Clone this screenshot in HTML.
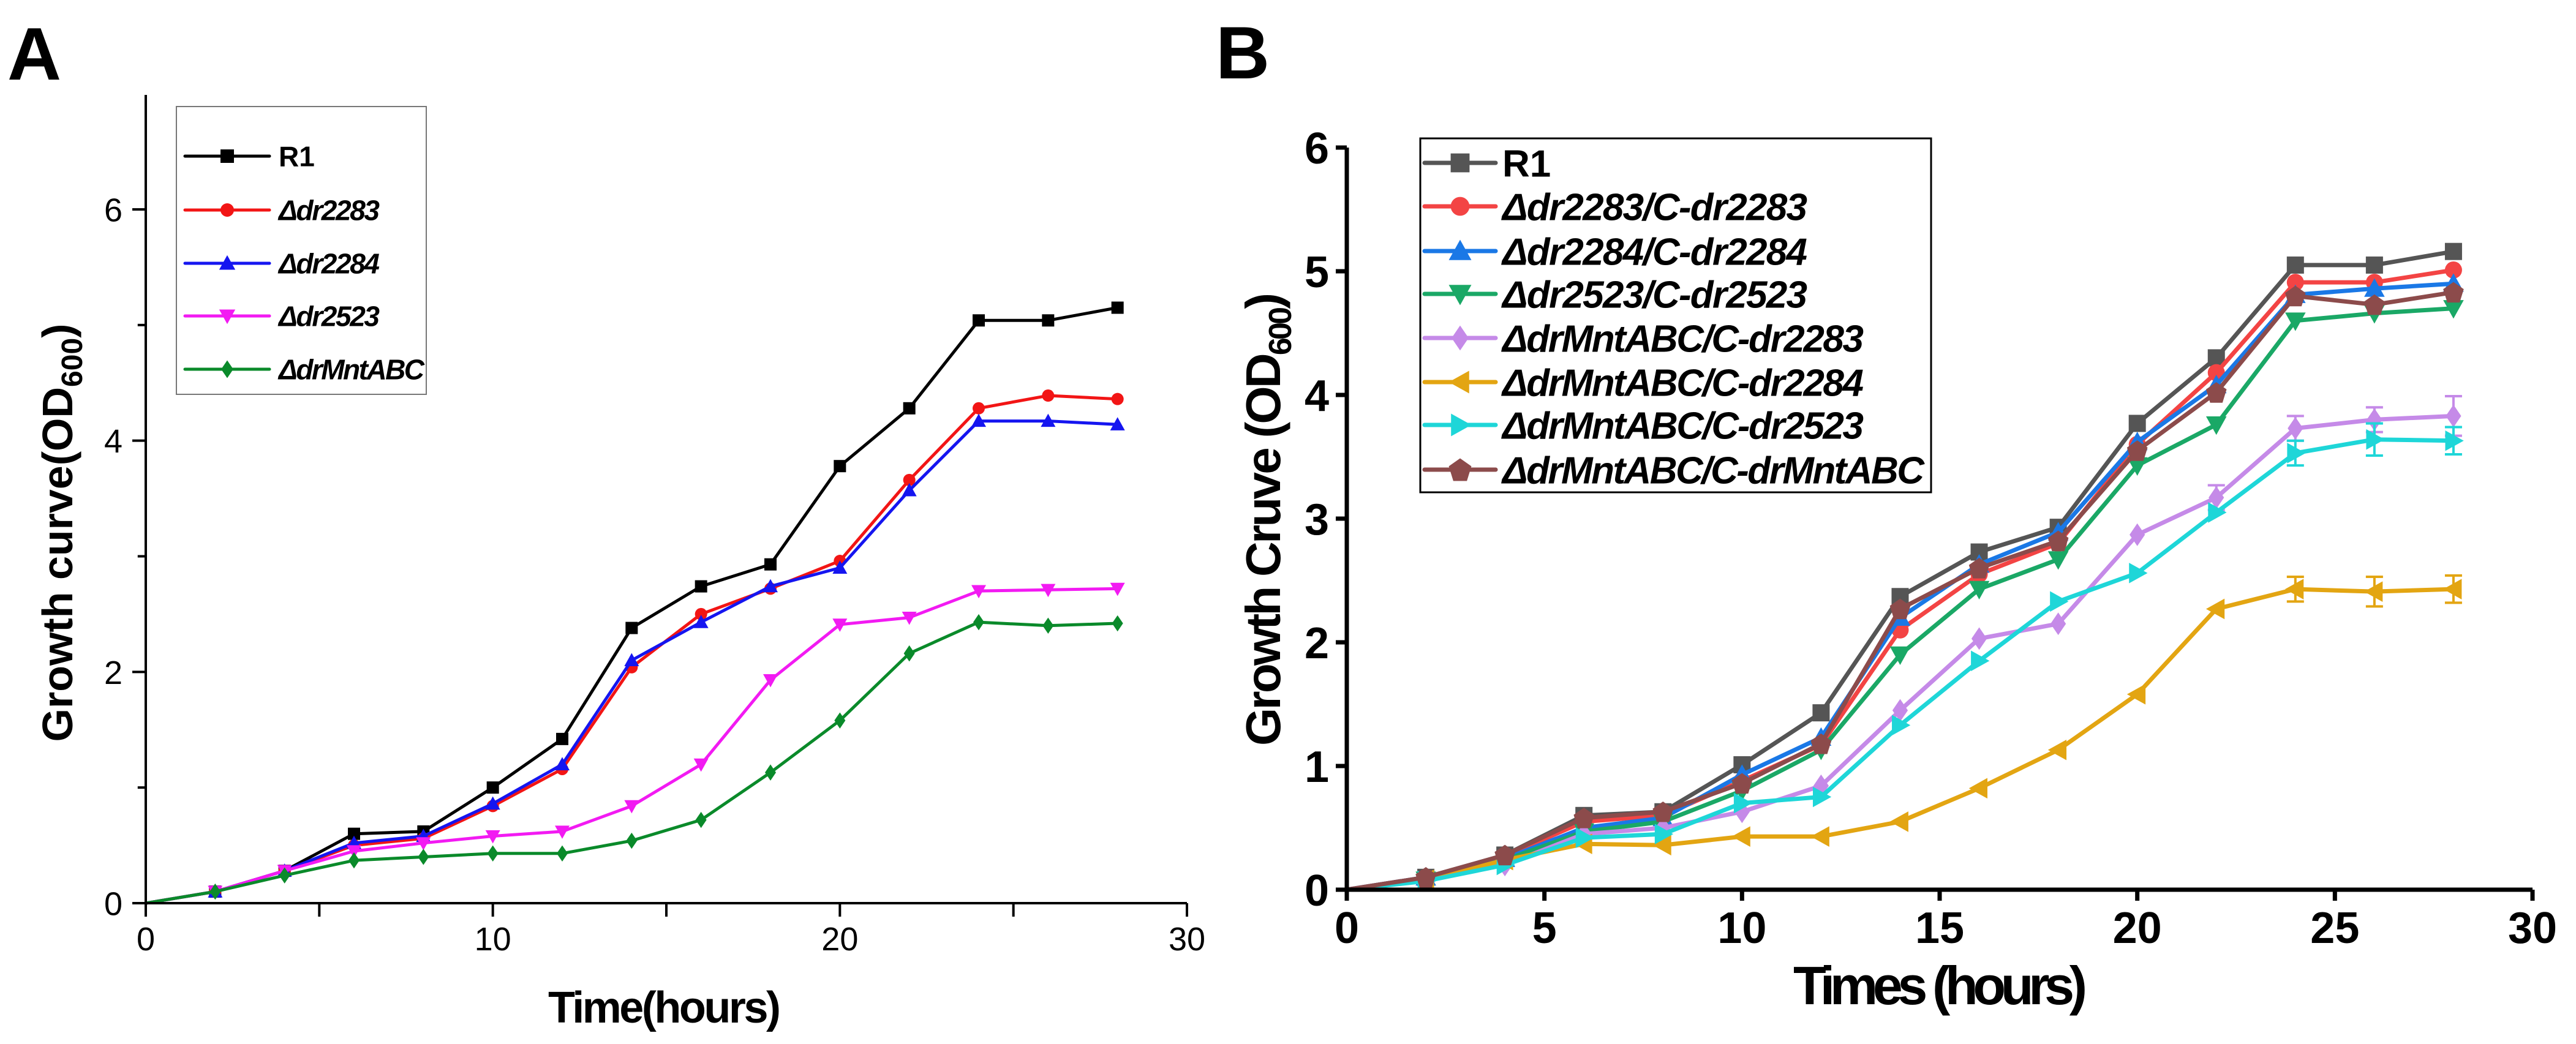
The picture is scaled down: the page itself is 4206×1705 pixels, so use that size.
<!DOCTYPE html>
<html><head><meta charset="utf-8"><style>
html,body{margin:0;padding:0;background:#fff;width:4206px;height:1705px;overflow:hidden}
svg{display:block}
text{font-family:"Liberation Sans",sans-serif}
</style></head><body>
<svg id="fig" width="4206" height="1705" viewBox="0 0 4206 1705" xmlns="http://www.w3.org/2000/svg">
<text x="12" y="130" font-size="122" font-weight="bold">A</text>
<text x="1985" y="128" font-size="122" font-weight="bold">B</text>
<g id="pa"></g>
<g id="pb"></g>
</svg>
<script>
const hours = [0,2,4,6,8,10,12,14,16,18,20,22,24,26,28];
const aNames = ["R1","Δdr2283","Δdr2284","Δdr2523","ΔdrMntABC"];
const aR1 = [0,0.1,0.28,0.6,0.62,1.0,1.42,2.38,2.74,2.93,3.78,4.28,5.04,5.04,5.15];
const a2283 = [0,0.1,0.28,0.5,0.56,0.84,1.16,2.04,2.5,2.72,2.96,3.66,4.28,4.39,4.36];
const a2284 = [0,0.1,0.28,0.52,0.58,0.86,1.2,2.1,2.43,2.74,2.9,3.57,4.17,4.17,4.14];
const a2523 = [0,0.1,0.28,0.45,0.52,0.58,0.62,0.84,1.2,1.93,2.41,2.47,2.7,2.71,2.72];
const aMnt = [0,0.1,0.24,0.37,0.4,0.43,0.43,0.54,0.72,1.13,1.58,2.16,2.43,2.4,2.42];
const aXTicks = [0,10,20,30];
const aYTicks = [0,2,4,6];
const bNames = ["R1","Δdr2283/C-dr2283","Δdr2284/C-dr2284","Δdr2523/C-dr2523","ΔdrMntABC/C-dr2283","ΔdrMntABC/C-dr2284","ΔdrMntABC/C-dr2523","ΔdrMntABC/C-drMntABC"];
const bR1 = [0,0.1,0.28,0.6,0.63,1.01,1.43,2.37,2.73,2.93,3.77,4.3,5.05,5.05,5.16];
const b2283 = [0,0.1,0.27,0.55,0.6,0.88,1.17,2.1,2.55,2.8,3.6,4.18,4.91,4.91,5.01];
const b2284 = [0,0.1,0.25,0.5,0.58,0.93,1.23,2.2,2.63,2.89,3.62,4.08,4.81,4.86,4.9];
const b2523 = [0,0.08,0.24,0.47,0.55,0.8,1.13,1.9,2.43,2.67,3.43,3.76,4.6,4.66,4.7];
const bM2283 = [0,0.08,0.2,0.45,0.5,0.63,0.84,1.45,2.03,2.15,2.87,3.17,3.73,3.8,3.83];
const bM2284 = [0,0.08,0.24,0.37,0.36,0.43,0.43,0.55,0.82,1.13,1.58,2.27,2.43,2.41,2.43];
const bM2523 = [0,0.07,0.2,0.42,0.45,0.7,0.75,1.33,1.85,2.33,2.56,3.05,3.53,3.64,3.63];
const bMMnt = [0,0.1,0.28,0.58,0.63,0.86,1.18,2.27,2.6,2.82,3.55,4.02,4.8,4.73,4.83];
const bErrM2283 = [0,0,0,0,0,0,0,0,0,0,0,0.1,0.1,0.1,0.16];
const bErrM2284 = [0,0,0,0,0,0,0,0,0,0,0,0,0.1,0.12,0.11];
const bErrM2523 = [0,0,0,0,0,0,0,0,0,0,0,0,0.1,0.13,0.11];
const bXTicks = [0,5,10,15,20,25,30];
const bYTicks = [0,1,2,3,4,5,6];

const NS="http://www.w3.org/2000/svg";
function mk(parent,tag,attrs,txt){const e=document.createElementNS(NS,tag);for(const k in attrs)e.setAttribute(k,attrs[k]);if(txt!==undefined)e.textContent=txt;parent.appendChild(e);return e;}

function marker(g,shape,cx,cy,s,color){
  let e;
  if(shape==="sq") e=mk(g,"rect",{x:cx-s/2,y:cy-s/2,width:s,height:s,fill:color});
  else if(shape==="ci") e=mk(g,"circle",{cx:cx,cy:cy,r:s/2,fill:color});
  else {
    const h=s*0.6;let p;
    if(shape==="up") p=[[cx,cy-h],[cx-h,cy+h*0.8],[cx+h,cy+h*0.8]];
    else if(shape==="dn") p=[[cx,cy+h],[cx-h,cy-h*0.8],[cx+h,cy-h*0.8]];
    else if(shape==="lt") p=[[cx-h,cy],[cx+h*0.8,cy-h],[cx+h*0.8,cy+h]];
    else if(shape==="rt") p=[[cx+h,cy],[cx-h*0.8,cy-h],[cx-h*0.8,cy+h]];
    else if(shape==="dm") p=[[cx,cy-h*1.1],[cx+h*0.75,cy],[cx,cy+h*1.1],[cx-h*0.75,cy]];
    else p=[[cx,cy-h],[cx+h,cy-h*0.3],[cx+h*0.6,cy+h],[cx-h*0.6,cy+h],[cx-h,cy-h*0.3]];
    e=mk(g,"polygon",{points:p.map(q=>q.join(",")).join(" "),fill:color});
  }
  
  
}

function chart(g,o){
  const X=v=>o.x0+(v-o.xmin)*(o.x1-o.x0)/(o.xmax-o.xmin);
  const Y=v=>o.y0-(v)*(o.y0-o.y6)/o.yref;
  o.series.forEach((s,i)=>{
    const sg=mk(g,"g",{});
    
    
    const pts=hours.map((h,j)=>X(h)+","+Y(s[j])).join(" ");
    const pl=mk(sg,"polyline",{points:pts,fill:"none",stroke:o.colors[i],"stroke-width":o.lw,"stroke-linejoin":"round"});
    
    
    const err=o.errs&&o.errs[i];
    if(err) hours.forEach((h,j)=>{ if(err[j]>0){
      const eg=mk(sg,"g",{stroke:o.colors[i],"stroke-width":4});
      
      
      const x=X(h),yt=Y(s[j]+err[j]),yb=Y(s[j]-err[j]);
      mk(eg,"line",{x1:x,y1:yt,x2:x,y2:yb});
      mk(eg,"line",{x1:x-14,y1:yt,x2:x+14,y2:yt});
      mk(eg,"line",{x1:x-14,y1:yb,x2:x+14,y2:yb});
    }});
    hours.forEach((h,j)=>{ if(j>0) marker(sg,o.shapes[i],X(h),Y(s[j]),o.ms,o.colors[i]); });
  });
  const ax=mk(g,"g",{stroke:"#000","stroke-width":o.aw,fill:"none"});
  
  
  mk(ax,"line",{x1:o.x0,y1:o.y0+o.aw/2,x2:o.x0,y2:o.ytop});
  mk(ax,"line",{x1:o.x0-o.tl*(o.yout?1:0),y1:o.y0,x2:o.x1,y2:o.y0});
  o.xt.forEach(v=>{mk(ax,"line",{x1:X(v),y1:o.y0,x2:X(v),y2:o.y0+o.tl});
    const t=mk(g,"text",{x:X(v),y:o.xly,"font-size":o.tf,"font-weight":o.tw,"text-anchor":"middle"},String(v));
    
    });
  (o.xminor||[]).forEach(v=>mk(ax,"line",{x1:X(v),y1:o.y0,x2:X(v),y2:o.y0+o.tl}));
  o.yt.forEach(v=>{mk(ax,"line",{x1:o.x0-o.tl,y1:Y(v),x2:o.x0,y2:Y(v)});
    const t=mk(g,"text",{x:o.ylx,y:Y(v)+o.tf*0.36,"font-size":o.tf,"font-weight":o.tw,"text-anchor":"end"},String(v));
    
    });
  (o.yminor||[]).forEach(v=>mk(ax,"line",{x1:o.x0-o.tl*0.6,y1:Y(v),x2:o.x0,y2:Y(v)}));
  const lg=mk(g,"g",{});
  
  
  const L=o.leg;
  mk(lg,"rect",{x:L.x,y:L.y,width:L.w,height:L.h,fill:"#fff",stroke:L.stroke,"stroke-width":L.sw});
  o.names.forEach((n,i)=>{
    const cy=L.ys[i];
    const e=mk(lg,"g",{});
    
    
    mk(e,"line",{x1:L.lx0,y1:cy,x2:L.lx1,y2:cy,stroke:o.colors[i],"stroke-width":o.lw,"stroke-linecap":"round"});
    marker(e,o.shapes[i],(L.lx0+L.lx1)/2,cy,o.ms*1.1,o.colors[i]);
    const t=mk(e,"text",{x:L.tx,y:cy+L.fs*0.36,"font-size":L.fs,"font-weight":"bold","font-style":i===0?"normal":"italic"},n);
    if(L.tls&&L.tls[i]) t.setAttribute("textLength",L.tls[i]);
  });
}

chart(document.getElementById("pa"),{
  x0:238,x1:1938,xmin:0,xmax:30,y0:1475,y6:342,yref:6,ytop:155,
  series:[aR1,a2283,a2284,a2523,aMnt],ids:["r1","dr2283","dr2284","dr2523","drmntabc"],
  names:aNames,colors:["#000","#f21515","#1515f0","#f21af2","#0a8a2a"],shapes:["sq","ci","up","dn","dm"],
  lw:5,ms:20,aw:4,tl:22,xt:aXTicks,xminor:[5,15,25],yt:aYTicks,yminor:[1,3,5],
  tf:54,tw:"normal",xly:1552,ylx:200,
  leg:{x:288,y:174,w:408,h:470,stroke:"#777",sw:2,ys:[255,343,430,516,603],lx0:302,lx1:440,tx:455,fs:46,tls:[0,165,165,165,238]}
});
chart(document.getElementById("pb"),{
  x0:2199,x1:4135,xmin:0,xmax:30,y0:1453,y6:241,yref:6,ytop:241,yout:true,
  series:[bR1,b2283,b2284,b2523,bM2283,bM2284,bM2523,bMMnt],ids:["r1","dr2283c","dr2284c","dr2523c","mnt-c2283","mnt-c2284","mnt-c2523","mnt-cmnt"],
  errs:[null,null,null,null,bErrM2283,bErrM2284,bErrM2523,null],
  names:bNames,colors:["#555555","#f34444","#1a78e6","#1aa866","#c58ae8","#e3a512","#1ed6d8","#8c4b4b"],shapes:["sq","ci","up","dn","dm","lt","rt","pt"],
  lw:7,ms:28,aw:7,tl:18,xt:bXTicks,yt:bYTicks,
  tf:72,tw:"bold",xly:1540,ylx:2170,
  leg:{x:2319,y:226,w:834,h:578,stroke:"#000",sw:3,ys:[266,337,410,480,552,624,694,767],lx0:2326,lx1:2442,tx:2453,fs:62,tls:[0,498,498,498,590,590,590,689]}
});
const svg=document.getElementById("fig");
let t=mk(svg,"text",{x:1085,y:1670,"font-size":72,"font-weight":"bold","text-anchor":"middle",textLength:380},"Time(hours)");

t=mk(svg,"text",{x:3168,y:1640,"font-size":88,"font-weight":"bold","text-anchor":"middle",textLength:480},"Times (hours)");

t=mk(svg,"text",{x:0,y:0,"font-size":70,"font-weight":"bold","text-anchor":"middle",transform:"translate(118,870) rotate(-90)"});
t.innerHTML='Growth curve(OD<tspan font-size="48" dy="16">600</tspan><tspan dy="-16">)</tspan>';

t=mk(svg,"text",{x:0,y:0,"font-size":80,"font-weight":"bold","text-anchor":"middle",textLength:740,transform:"translate(2090,848) rotate(-90)"});
t.innerHTML='Growth Cruve (OD<tspan font-size="52" dy="18">600</tspan><tspan dy="-18">)</tspan>';

</script>
</body></html>
